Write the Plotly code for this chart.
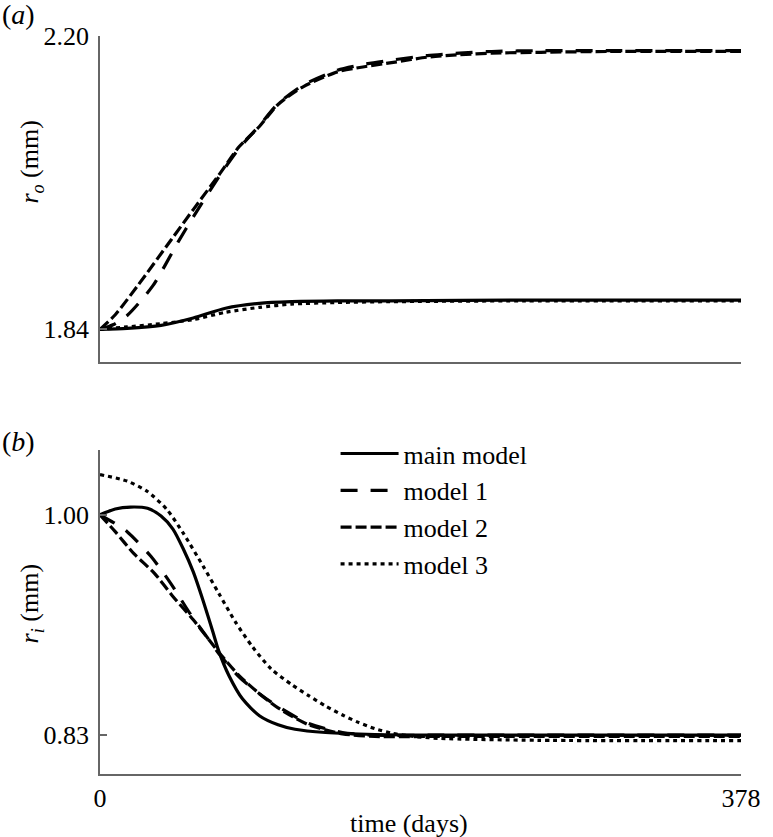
import plotly.graph_objects as go

# ---------------- data ----------------
# (a) outer radius r_o (mm)
t_main_a = [0, 16, 36, 55, 74, 94, 113, 140, 171, 250, 378]
ro_main = [1.840, 1.8412, 1.845, 1.854, 1.866, 1.872, 1.874, 1.875, 1.875, 1.876, 1.876]

t_m1_a = [0, 8, 16, 31, 46, 55, 71, 82, 94, 105, 120, 140, 155, 174, 193, 212, 231, 260, 300, 378]
ro_m1 = [1.840, 1.846, 1.857, 1.893, 1.947, 1.978, 2.030, 2.062, 2.090, 2.117, 2.140, 2.158,
         2.165, 2.171, 2.176, 2.179, 2.181, 2.182, 2.182, 2.182]

t_m2_a = [0, 9, 22, 42, 55, 71, 82, 94, 105, 120, 140, 155, 174, 193, 212, 231, 260, 300, 378]
ro_m2 = [1.840, 1.858, 1.893, 1.950, 1.987, 2.032, 2.064, 2.089, 2.116, 2.138, 2.156, 2.162,
         2.168, 2.174, 2.177, 2.179, 2.180, 2.181, 2.181]

t_m3_a = [0, 16, 36, 55, 74, 94, 113, 140, 171, 250, 378]
ro_m3 = [1.840, 1.843, 1.847, 1.852, 1.861, 1.867, 1.871, 1.873, 1.874, 1.875, 1.875]

# (b) inner radius r_i (mm)
t_main_b = [0, 9, 18, 28, 36, 43, 49, 55, 61, 66.5, 70, 76, 84, 94, 105, 115, 133, 162, 200, 378]
ri_main = [1.000, 1.0045, 1.006, 1.005, 0.999, 0.989, 0.974, 0.956, 0.933, 0.910, 0.895, 0.876,
           0.858, 0.845, 0.838, 0.8345, 0.832, 0.8305, 0.830, 0.830]

t_m1_b = [0, 8, 16, 30, 41.5, 53, 64.6, 70, 82, 94, 105, 123, 143, 162, 200, 378]
ri_m1 = [1.000, 0.994, 0.987, 0.968, 0.9475, 0.924, 0.903, 0.893, 0.875, 0.862, 0.852,
         0.839, 0.832, 0.830, 0.830, 0.830]

t_m2_b = [0, 9, 20, 32, 43, 55, 64.6, 70, 82, 94, 105, 123, 143, 162, 200, 378]
ri_m2 = [1.000, 0.987, 0.970, 0.955, 0.937, 0.919, 0.903, 0.894, 0.876, 0.862, 0.851,
         0.838, 0.831, 0.829, 0.829, 0.829]

t_m3_b = [0, 16, 28, 39.5, 49, 61, 70, 80, 90, 101, 113, 123, 133, 143, 152, 162, 172,
          185, 200, 258, 378]
ri_m3 = [1.031, 1.026, 1.018, 1.004, 0.986, 0.960, 0.9395, 0.917, 0.898, 0.881, 0.869,
         0.8605, 0.8525, 0.8455, 0.840, 0.835, 0.8315, 0.829, 0.8275, 0.826, 0.8257]

names = ["main model", "model 1", "model 2", "model 3"]
x_ticks = [0, 378]
x_ticktext = ["0", "378"]
ya_ticks = [1.84, 2.20]
ya_ticktext = ["1.84", "2.20"]
yb_ticks = [0.83, 1.00]
yb_ticktext = ["0.83", "1.00"]

# ---------------- styling ----------------
FONT = "Liberation Serif, Times New Roman, DejaVu Serif, serif"
FS = 26
dashes = ["solid", "17px,13px", "11px,4px", "4px,4px"]
LW = 3.2

fig = go.Figure()

series_a = [(t_main_a, ro_main), (t_m1_a, ro_m1), (t_m2_a, ro_m2), (t_m3_a, ro_m3)]
series_b = [(t_main_b, ri_main), (t_m1_b, ri_m1), (t_m2_b, ri_m2), (t_m3_b, ri_m3)]

for i, (tx, ty) in enumerate(series_a):
    fig.add_trace(go.Scatter(x=tx, y=ty, mode="lines", name=names[i], showlegend=False,
                             line=dict(color="black", width=LW, dash=dashes[i],
                                       shape="spline", smoothing=0.7),
                             xaxis="x", yaxis="y"))
for i, (tx, ty) in enumerate(series_b):
    fig.add_trace(go.Scatter(x=tx, y=ty, mode="lines", name=names[i], showlegend=True,
                             legendgroup=f"g{i}",
                             line=dict(color="black", width=LW, dash=dashes[i],
                                       shape="spline", smoothing=0.7),
                             xaxis="x2", yaxis="y2"))

AX = dict(showline=True, linecolor="#666", linewidth=1.5, ticks="inside", ticklen=7,
          tickcolor="#666", tickwidth=1.5, showgrid=False, zeroline=False,
          tickfont=dict(family=FONT, size=FS, color="black"))

fig.update_layout(
    width=773, height=837, autosize=False,
    margin=dict(l=100, r=20, t=36, b=63),
    paper_bgcolor="white", plot_bgcolor="white",
    font=dict(family=FONT, size=FS, color="black"),
    xaxis=dict(domain=[0, 1], range=[0, 378], anchor="y", tickvals=x_ticks,
               showticklabels=False, **AX),
    yaxis=dict(domain=[0.5583, 1.0], range=[1.80, 2.20], anchor="x", tickvals=ya_ticks,
               ticktext=ya_ticktext, ticklabelstandoff=4, **AX),
    xaxis2=dict(domain=[0, 1], range=[0, 378], anchor="y2", tickvals=x_ticks,
                ticktext=x_ticktext, **AX),
    yaxis2=dict(domain=[0, 0.439], range=[0.80, 1.05], anchor="x2", tickvals=yb_ticks,
                ticktext=yb_ticktext, ticklabelstandoff=4, **AX),
    legend=dict(x=0.3675, y=0.466, xanchor="left", yanchor="top", bgcolor="rgba(0,0,0,0)",
                itemwidth=58, tracegroupgap=0, font=dict(family=FONT, size=FS, color="black")),
    showlegend=True,
)

ann = [
    dict(text="(<i>a</i>)", x=-0.127, y=1.0285, size=28),
    dict(text="(<i>b</i>)", x=-0.127, y=0.4512, size=28),
    dict(text="<i>r</i><sub><i>o</i></sub> (mm)", x=-0.107, y=0.829, textangle=-90, size=FS),
    dict(text="<i>r</i><sub><i>i</i></sub> (mm)", x=-0.107, y=0.2304, textangle=-90, size=FS),
    dict(text="time (days)", x=0.4824, y=-0.0665, size=FS),
]
for a in ann:
    sz = a.pop("size")
    fig.add_annotation(xref="paper", yref="paper", showarrow=False,
                       xanchor="center", yanchor="middle",
                       font=dict(family=FONT, size=sz, color="black"), **a)

post = (
    "document.documentElement.style.margin='0px';"
    "document.documentElement.style.overflow='hidden';"
    "document.body.style.margin='0px';document.body.style.padding='0px';"
    "document.body.style.overflow='hidden';"
)
fig.write_html("out.html",
               config={"responsive": False, "displayModeBar": False},
               post_script=post)
